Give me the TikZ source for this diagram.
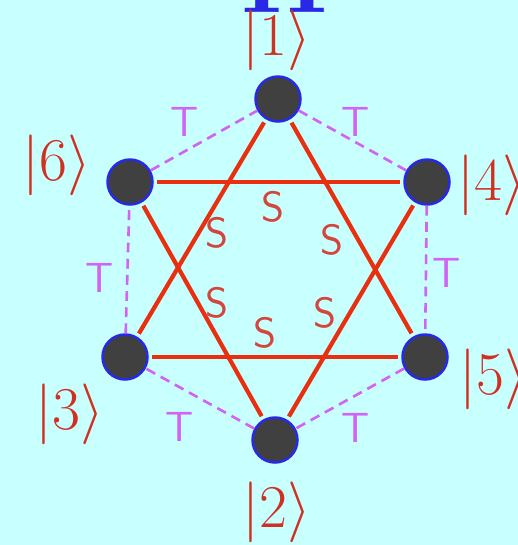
\documentclass[tikz,border=0pt]{standalone}
\usepackage{amsmath}
\usepackage{tikz}

\definecolor{bgcyan}{RGB}{200,255,255}
\definecolor{linered}{RGB}{232,48,16}
\definecolor{ketred}{RGB}{208,48,32}
\definecolor{slabred}{RGB}{210,70,60}
\definecolor{tviolet}{RGB}{210,100,245}
\definecolor{sitegray}{RGB}{64,64,64}
\definecolor{siteblue}{RGB}{40,40,230}

\tikzset{
  site/.style={circle, fill=sitegray, draw=siteblue, line width=0.7pt, minimum size=0.45cm, inner sep=0pt},
  sbond/.style={draw=linered, line width=1.2pt},
  tbond/.style={draw=tviolet, line width=0.75pt, dash pattern=on 2.8pt off 1.8pt},
  ket/.style={text=ketred, font=\fontsize{18}{21}\selectfont},
  slab/.style={text=slabred, font=\sffamily\fontsize{12}{14}\selectfont},
  tlab/.style={text=tviolet, font=\sffamily\fontsize{12}{14}\selectfont}
}

\begin{document}
\begin{tikzpicture}[x=0.01cm, y=-0.01cm]
    \useasboundingbox[fill=bgcyan] (0,0) rectangle (518,545);
    \clip (0,0) rectangle (518,545);
    % title, cut off at the top
    \node[anchor=base, text=siteblue, font=\bfseries\fontsize{28}{32}\selectfont] (title) at (285,12) {H};

    % sites
    \node[site] (s1) at (278,99) {};
    \node[site] (s6) at (130,182) {};
    \node[site] (s4) at (427,182) {};
    \node[site] (s3) at (125,357) {};
    \node[site] (s5) at (425,357) {};
    \node[site] (s2) at (275,440) {};

    % T bonds (hexagon)
    \draw[tbond] (s1) -- (s4);
    \draw[tbond] (s4) -- (s5);
    \draw[tbond] (s5) -- (s2);
    \draw[tbond] (s2) -- (s3);
    \draw[tbond] (s3) -- (s6);
    \draw[tbond] (s6) -- (s1);

    % S bonds (two triangles)
    \draw[sbond, shorten <=1pt, shorten >=1pt] (s1) -- (s3);
    \draw[sbond, shorten <=1pt, shorten >=1pt] (s3) -- (s5);
    \draw[sbond, shorten <=1pt, shorten >=1pt] (s5) -- (s1);
    \draw[sbond, shorten <=1pt, shorten >=1pt] (s6) -- (s4);
    \draw[sbond, shorten <=1pt, shorten >=1pt] (s4) -- (s2);
    \draw[sbond, shorten <=1pt, shorten >=1pt] (s2) -- (s6);

    % kets
    \node[ket] (k1) at (277,40) {$|1\rangle$};
    \node[ket] (k6) at (57,165) {$|6\rangle$};
    \node[ket] (k4) at (492,185) {$|4\rangle$};
    \node[ket] (k3) at (70,414) {$|3\rangle$};
    \node[ket] (k5) at (494,379) {$|5\rangle$};
    \node[ket] (k2) at (277,512) {$|2\rangle$};

    % S labels
    \node[slab] (sa) at (273,207) {S};
    \node[slab] (sb) at (217,233) {S};
    \node[slab] (sc) at (332,240) {S};
    \node[slab] (sd) at (217,303) {S};
    \node[slab] (se) at (325,313) {S};
    \node[slab] (sf) at (265,333) {S};

    % T labels
    \node[tlab] (ta) at (185,122) {T};
    \node[tlab] (tb) at (356,122) {T};
    \node[tlab] (tc) at (100,278) {T};
    \node[tlab] (td) at (447,273) {T};
    \node[tlab] (te) at (180,427) {T};
    \node[tlab] (tf) at (356,428) {T};
\end{tikzpicture}
\end{document}
